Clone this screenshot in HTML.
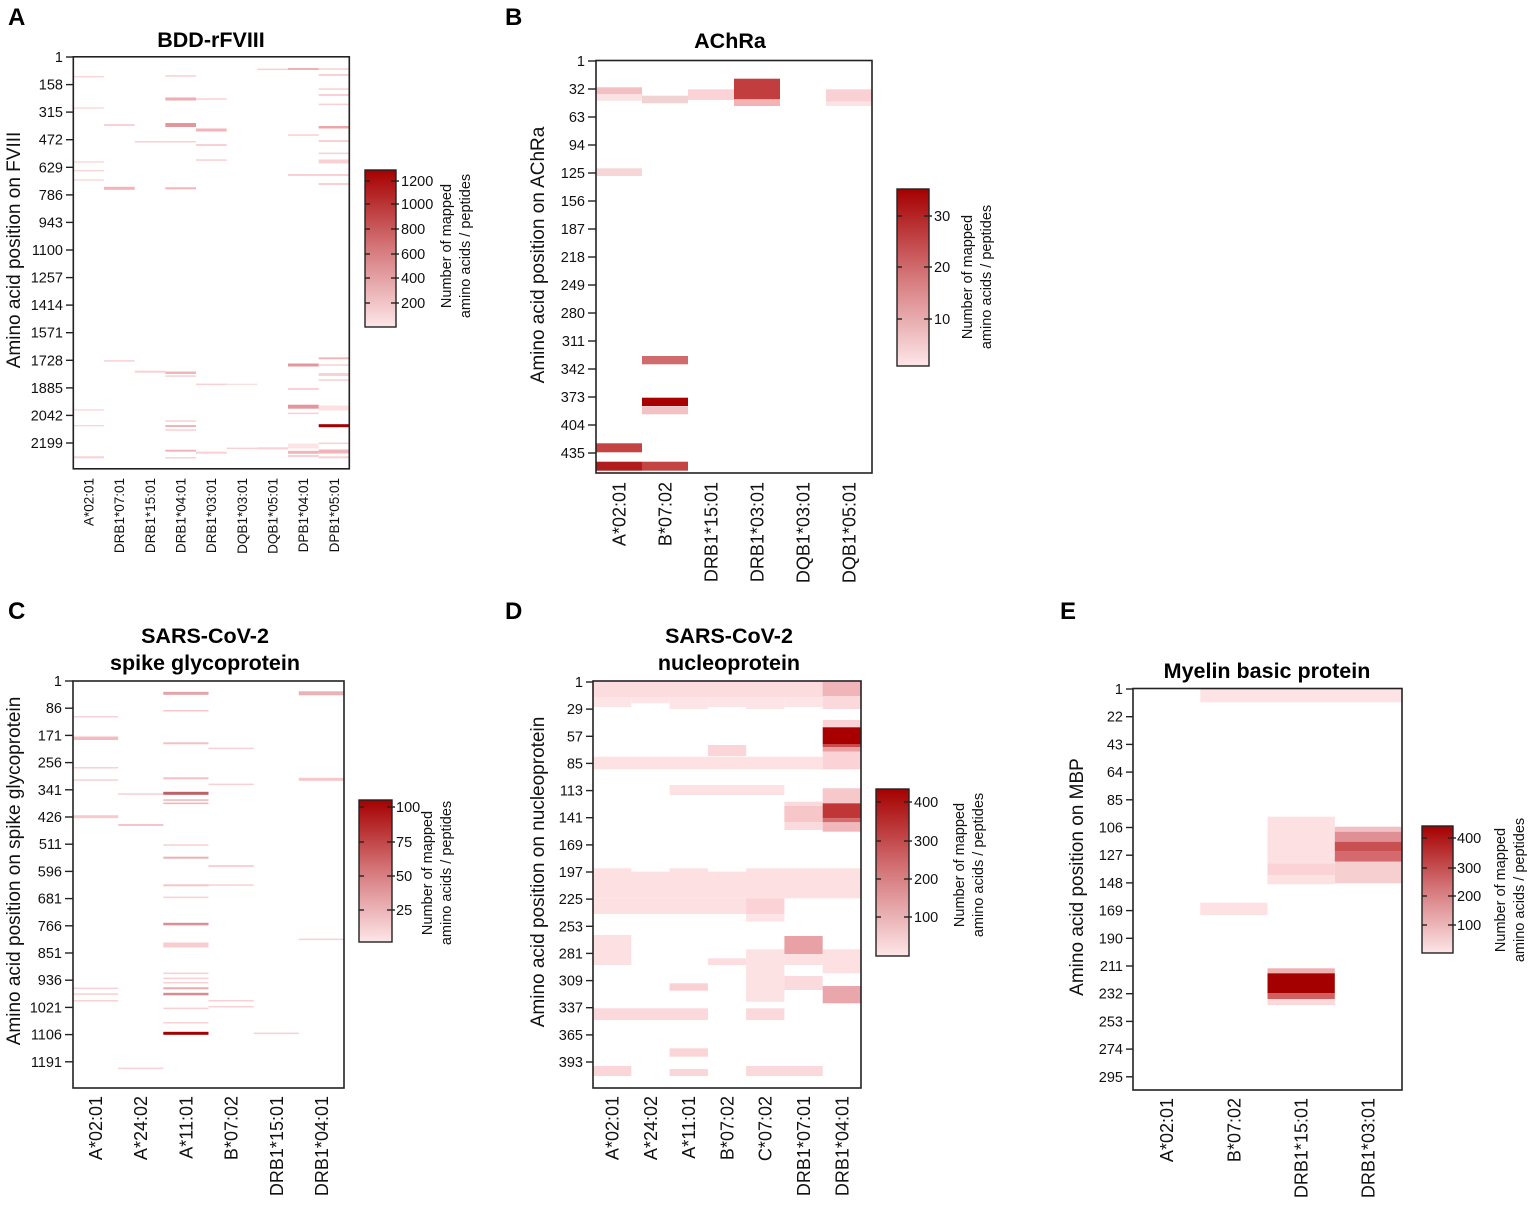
<!DOCTYPE html>
<html><head><meta charset="utf-8"><style>
html,body{margin:0;padding:0;background:#fff;}
svg{display:block;font-family:"Liberation Sans",Arial,sans-serif;}
.pl{font-weight:bold;font-size:24px;}
.ti{font-weight:bold;font-size:21.5px;text-anchor:middle;}
.tk{font-size:14.5px;text-anchor:end;fill:#111;}
.yl{font-size:19px;text-anchor:middle;fill:#111;}
.xs{font-size:13.5px;text-anchor:end;fill:#111;}
.xl{font-size:18px;text-anchor:end;fill:#111;}
.cb{font-size:14.5px;fill:#111;}
.cl{font-size:14.5px;text-anchor:middle;fill:#111;}
.fr{fill:none;stroke:#222;stroke-width:1.6;}
.t line{stroke:#222;stroke-width:1.4;}
</style></head><body>
<svg width="1535" height="1206" viewBox="0 0 1535 1206" xmlns="http://www.w3.org/2000/svg">
<defs>
<linearGradient id="cg" x1="0" y1="0" x2="0" y2="1">
<stop offset="0" stop-color="#a50000"/>
<stop offset="0.5" stop-color="#d5787b"/>
<stop offset="1" stop-color="#fde6e8"/>
</linearGradient>
</defs>
<rect width="1535" height="1206" fill="#fff"/>

<!-- Panel letters -->
<text class="pl" x="8" y="25">A</text>
<text class="pl" x="505" y="25">B</text>
<text class="pl" x="8" y="619">C</text>
<text class="pl" x="505" y="619">D</text>
<text class="pl" x="1060" y="619">E</text>

<!-- ============ PANEL A ============ -->
<text class="ti" x="211" y="47">BDD-rFVIII</text>
<g>
<!-- col0 -->
<rect x="73.3" y="76.1" width="30.7" height="1.2" fill="#f9d0d3"/>
<rect x="73.3" y="107.4" width="30.7" height="1.2" fill="#f9d0d3"/>
<rect x="73.3" y="161.4" width="30.7" height="1.2" fill="#f9d0d3"/>
<rect x="73.3" y="170.1" width="30.7" height="1.2" fill="#f9d0d3"/>
<rect x="73.3" y="179.4" width="30.7" height="1.2" fill="#f9d0d3"/>
<rect x="73.3" y="409.4" width="30.7" height="1.2" fill="#f9d0d3"/>
<rect x="73.3" y="425.1" width="30.7" height="1.2" fill="#f9d0d3"/>
<rect x="73.3" y="456.3" width="30.7" height="2" fill="#f9d0d3"/>
<!-- col1 -->
<rect x="104" y="124" width="30.7" height="2" fill="#f9d0d3"/>
<rect x="104" y="186.8" width="30.7" height="3" fill="#f2b4b8"/>
<rect x="104" y="360.2" width="30.7" height="1.5" fill="#f9d0d3"/>
<!-- col2 -->
<rect x="134.7" y="141" width="30.7" height="1.5" fill="#f9d0d3"/>
<rect x="134.7" y="370.7" width="30.7" height="2" fill="#f9d0d3"/>
<!-- col3 -->
<rect x="165.3" y="75.2" width="30.7" height="1.5" fill="#f9d0d3"/>
<rect x="165.3" y="97.5" width="30.7" height="3" fill="#eeadb1"/>
<rect x="165.3" y="123" width="30.7" height="4" fill="#e3979c"/>
<rect x="165.3" y="141" width="30.7" height="1.5" fill="#f9d0d3"/>
<rect x="165.3" y="187.3" width="30.7" height="2" fill="#f2b4b8"/>
<rect x="165.3" y="371.5" width="30.7" height="2.5" fill="#f2b4b8"/>
<rect x="165.3" y="375.3" width="30.7" height="1.5" fill="#f9d0d3"/>
<rect x="165.3" y="420.3" width="30.7" height="1.5" fill="#f9d0d3"/>
<rect x="165.3" y="425" width="30.7" height="2" fill="#f2b4b8"/>
<rect x="165.3" y="429.3" width="30.7" height="1.5" fill="#f9d0d3"/>
<rect x="165.3" y="449.7" width="30.7" height="2" fill="#f2b4b8"/>
<rect x="165.3" y="457" width="30.7" height="1.5" fill="#f9d0d3"/>
<!-- col4 -->
<rect x="196" y="98.3" width="30.7" height="1.5" fill="#f9d0d3"/>
<rect x="196" y="128.5" width="30.7" height="3" fill="#f2b4b8"/>
<rect x="196" y="144" width="30.7" height="2" fill="#f9d0d3"/>
<rect x="196" y="159.3" width="30.7" height="1.5" fill="#f9d0d3"/>
<rect x="196" y="383.6" width="30.7" height="1.5" fill="#f9d0d3"/>
<rect x="196" y="451.7" width="30.7" height="2" fill="#f9d0d3"/>
<!-- col5 -->
<rect x="226.7" y="383.7" width="30.7" height="1.2" fill="#fbdadd"/>
<rect x="226.7" y="447.6" width="30.7" height="1.5" fill="#f9d0d3"/>
<!-- col6 -->
<rect x="257.3" y="68.6" width="30.7" height="1.5" fill="#f9d0d3"/>
<rect x="257.3" y="447.3" width="30.7" height="2" fill="#f9d0d3"/>
<!-- col7 -->
<rect x="288" y="68" width="30.7" height="2" fill="#f0b0b4"/>
<rect x="288" y="134.3" width="30.7" height="1.5" fill="#f9d0d3"/>
<rect x="288" y="174" width="30.7" height="2" fill="#f9d0d3"/>
<rect x="288" y="363.5" width="30.7" height="3" fill="#e3979c"/>
<rect x="288" y="388" width="30.7" height="2" fill="#f9d0d3"/>
<rect x="288" y="404.7" width="30.7" height="4" fill="#e3979c"/>
<rect x="288" y="412.6" width="30.7" height="1.5" fill="#f9d0d3"/>
<rect x="288" y="443.5" width="30.7" height="5" fill="#fde4e6"/>
<rect x="288" y="450.8" width="30.7" height="3" fill="#f2b4b8"/>
<rect x="288" y="455" width="30.7" height="2" fill="#f9d0d3"/>
<!-- col8 -->
<rect x="318.7" y="68.3" width="30.6" height="1.5" fill="#f9d0d3"/>
<rect x="318.7" y="74" width="30.6" height="2" fill="#f9d0d3"/>
<rect x="318.7" y="88.3" width="30.6" height="1.5" fill="#f9d0d3"/>
<rect x="318.7" y="94" width="30.6" height="2" fill="#f9d0d3"/>
<rect x="318.7" y="103.6" width="30.6" height="1.5" fill="#f9d0d3"/>
<rect x="318.7" y="126" width="30.6" height="2.5" fill="#eca6aa"/>
<rect x="318.7" y="140" width="30.6" height="2" fill="#f9d0d3"/>
<rect x="318.7" y="152.6" width="30.6" height="1.5" fill="#f9d0d3"/>
<rect x="318.7" y="159.5" width="30.6" height="4" fill="#f9d0d3"/>
<rect x="318.7" y="174" width="30.6" height="2" fill="#f9d0d3"/>
<rect x="318.7" y="183" width="30.6" height="2" fill="#f9d0d3"/>
<rect x="318.7" y="357.3" width="30.6" height="2" fill="#f2b4b8"/>
<rect x="318.7" y="364.3" width="30.6" height="1.5" fill="#f9d0d3"/>
<rect x="318.7" y="373" width="30.6" height="3" fill="#f9d0d3"/>
<rect x="318.7" y="379.3" width="30.6" height="1.5" fill="#f9d0d3"/>
<rect x="318.7" y="405.5" width="30.6" height="5" fill="#fde0e2"/>
<rect x="318.7" y="424.2" width="30.6" height="3" fill="#a50000"/>
<rect x="318.7" y="442.6" width="30.6" height="1.5" fill="#f9d0d3"/>
<rect x="318.7" y="449.5" width="30.6" height="4" fill="#f2b4b8"/>
<rect x="318.7" y="456.3" width="30.6" height="2" fill="#f9d0d3"/>
</g>
<rect class="fr" x="73.3" y="56.8" width="276" height="412"/>
<g class="t">
<line x1="66" y1="57" x2="73" y2="57"/><line x1="66" y1="84.6" x2="73" y2="84.6"/><line x1="66" y1="112.1" x2="73" y2="112.1"/><line x1="66" y1="139.7" x2="73" y2="139.7"/><line x1="66" y1="167.3" x2="73" y2="167.3"/><line x1="66" y1="194.9" x2="73" y2="194.9"/><line x1="66" y1="222.4" x2="73" y2="222.4"/><line x1="66" y1="250" x2="73" y2="250"/><line x1="66" y1="277.6" x2="73" y2="277.6"/><line x1="66" y1="305.1" x2="73" y2="305.1"/><line x1="66" y1="332.7" x2="73" y2="332.7"/><line x1="66" y1="360.3" x2="73" y2="360.3"/><line x1="66" y1="387.9" x2="73" y2="387.9"/><line x1="66" y1="415.4" x2="73" y2="415.4"/><line x1="66" y1="443" x2="73" y2="443"/>
</g>
<g class="tk">
<text x="63" y="62">1</text><text x="63" y="89.6">158</text><text x="63" y="117.1">315</text><text x="63" y="144.7">472</text><text x="63" y="172.3">629</text><text x="63" y="199.9">786</text><text x="63" y="227.4">943</text><text x="63" y="255">1100</text><text x="63" y="282.6">1257</text><text x="63" y="310.1">1414</text><text x="63" y="337.7">1571</text><text x="63" y="365.3">1728</text><text x="63" y="392.9">1885</text><text x="63" y="420.4">2042</text><text x="63" y="448">2199</text>
</g>
<text class="yl" transform="translate(20,250) rotate(-90)">Amino acid position on FVIII</text>
<g class="xs">
<text transform="translate(93.5,478) rotate(-90)">A*02:01</text>
<text transform="translate(124.2,478) rotate(-90)">DRB1*07:01</text>
<text transform="translate(154.9,478) rotate(-90)">DRB1*15:01</text>
<text transform="translate(185.5,478) rotate(-90)">DRB1*04:01</text>
<text transform="translate(216.2,478) rotate(-90)">DRB1*03:01</text>
<text transform="translate(246.9,478) rotate(-90)">DQB1*03:01</text>
<text transform="translate(277.5,478) rotate(-90)">DQB1*05:01</text>
<text transform="translate(308.2,478) rotate(-90)">DPB1*04:01</text>
<text transform="translate(338.9,478) rotate(-90)">DPB1*05:01</text>
</g>
<!-- colorbar A -->
<rect x="365" y="170" width="31" height="157" fill="url(#cg)" stroke="#222" stroke-width="1.4"/>
<g class="t">
<line x1="365" y1="181" x2="370" y2="181"/><line x1="391" y1="181" x2="399" y2="181"/>
<line x1="365" y1="204" x2="370" y2="204"/><line x1="391" y1="204" x2="399" y2="204"/>
<line x1="365" y1="229" x2="370" y2="229"/><line x1="391" y1="229" x2="399" y2="229"/>
<line x1="365" y1="254" x2="370" y2="254"/><line x1="391" y1="254" x2="399" y2="254"/>
<line x1="365" y1="278" x2="370" y2="278"/><line x1="391" y1="278" x2="399" y2="278"/>
<line x1="365" y1="303" x2="370" y2="303"/><line x1="391" y1="303" x2="399" y2="303"/>
</g>
<g class="cb">
<text x="401" y="186">1200</text><text x="401" y="209">1000</text><text x="401" y="234">800</text><text x="401" y="259">600</text><text x="401" y="283">400</text><text x="401" y="308">200</text>
</g>
<text class="cl" transform="translate(451,246) rotate(-90)">Number of mapped</text>
<text class="cl" transform="translate(470,246) rotate(-90)">amino acids / peptides</text>

<!-- ============ PANEL B ============ -->
<text class="ti" x="730" y="48">AChRa</text>
<g>
<rect x="596" y="87.3" width="46" height="7" fill="#f2bfc3"/>
<rect x="596" y="94.3" width="46" height="6.4" fill="#fbe2e4"/>
<rect x="596" y="168.3" width="46" height="7.7" fill="#f6d6d7"/>
<rect x="596" y="443.3" width="46" height="9" fill="#c44343"/>
<rect x="596" y="461.7" width="46" height="9" fill="#b11d1d"/>
<rect x="642" y="95.7" width="46" height="7.6" fill="#f1d2d3"/>
<rect x="642" y="356" width="46" height="8.3" fill="#cf6b6d"/>
<rect x="642" y="397.7" width="46" height="8.3" fill="#a80000"/>
<rect x="642" y="406.3" width="46" height="8" fill="#f1c1c4"/>
<rect x="642" y="461.7" width="46" height="9" fill="#c44444"/>
<rect x="688" y="89.3" width="46" height="10.7" fill="#fbd3d6"/>
<rect x="734" y="78.7" width="46" height="20.6" fill="#c23d3d"/>
<rect x="734" y="99.3" width="46" height="6.7" fill="#f3b3b3"/>
<rect x="826" y="89.3" width="46" height="12.4" fill="#f9d0d3"/>
<rect x="826" y="101.7" width="46" height="4.3" fill="#fce2e4"/>
</g>
<rect class="fr" x="596" y="60.5" width="276" height="412.5"/>
<g class="t">
<line x1="588" y1="61" x2="596" y2="61"/><line x1="588" y1="89" x2="596" y2="89"/><line x1="588" y1="117" x2="596" y2="117"/><line x1="588" y1="145" x2="596" y2="145"/><line x1="588" y1="173" x2="596" y2="173"/><line x1="588" y1="201" x2="596" y2="201"/><line x1="588" y1="229" x2="596" y2="229"/><line x1="588" y1="257" x2="596" y2="257"/><line x1="588" y1="285" x2="596" y2="285"/><line x1="588" y1="313" x2="596" y2="313"/><line x1="588" y1="341" x2="596" y2="341"/><line x1="588" y1="369" x2="596" y2="369"/><line x1="588" y1="397" x2="596" y2="397"/><line x1="588" y1="425" x2="596" y2="425"/><line x1="588" y1="453" x2="596" y2="453"/>
</g>
<g class="tk">
<text x="585" y="66">1</text><text x="585" y="94">32</text><text x="585" y="122">63</text><text x="585" y="150">94</text><text x="585" y="178">125</text><text x="585" y="206">156</text><text x="585" y="234">187</text><text x="585" y="262">218</text><text x="585" y="290">249</text><text x="585" y="318">280</text><text x="585" y="346">311</text><text x="585" y="374">342</text><text x="585" y="402">373</text><text x="585" y="430">404</text><text x="585" y="458">435</text>
</g>
<text class="yl" transform="translate(544,255) rotate(-90)">Amino acid position on AChRa</text>
<g class="xl">
<text transform="translate(625.5,482) rotate(-90)">A*02:01</text>
<text transform="translate(671.5,482) rotate(-90)">B*07:02</text>
<text transform="translate(717.5,482) rotate(-90)">DRB1*15:01</text>
<text transform="translate(763.5,482) rotate(-90)">DRB1*03:01</text>
<text transform="translate(809.5,482) rotate(-90)">DQB1*03:01</text>
<text transform="translate(855.5,482) rotate(-90)">DQB1*05:01</text>
</g>
<!-- colorbar B -->
<rect x="897" y="189" width="32" height="177" fill="url(#cg)" stroke="#222" stroke-width="1.4"/>
<g class="t">
<line x1="897" y1="216" x2="902" y2="216"/><line x1="924" y1="216" x2="932" y2="216"/>
<line x1="897" y1="267" x2="902" y2="267"/><line x1="924" y1="267" x2="932" y2="267"/>
<line x1="897" y1="319" x2="902" y2="319"/><line x1="924" y1="319" x2="932" y2="319"/>
</g>
<g class="cb"><text x="934" y="221">30</text><text x="934" y="272">20</text><text x="934" y="324">10</text></g>
<text class="cl" transform="translate(972,277) rotate(-90)">Number of mapped</text>
<text class="cl" transform="translate(991,277) rotate(-90)">amino acids / peptides</text>

<!-- ============ PANEL C ============ -->
<text class="ti" x="205" y="643">SARS-CoV-2</text>
<text class="ti" x="205" y="670">spike glycoprotein</text>
<g>
<rect x="73" y="716" width="45.2" height="1.5" fill="#f9d0d3"/>
<rect x="73" y="736.5" width="45.2" height="3.5" fill="#f4bcc1"/>
<rect x="73" y="767" width="45.2" height="1.5" fill="#f9d0d3"/>
<rect x="73" y="779.3" width="45.2" height="1.5" fill="#f9d0d3"/>
<rect x="73" y="815.2" width="45.2" height="3" fill="#f7cbce"/>
<rect x="73" y="987.6" width="45.2" height="1.5" fill="#f9d0d3"/>
<rect x="73" y="993.3" width="45.2" height="1.5" fill="#f9d0d3"/>
<rect x="73" y="1000" width="45.2" height="1.5" fill="#f9d0d3"/>
<rect x="118.2" y="793.3" width="45.2" height="1.5" fill="#f9d0d3"/>
<rect x="118.2" y="824" width="45.2" height="2" fill="#f4c4c8"/>
<rect x="118.2" y="1067.6" width="45.2" height="1.5" fill="#f9d0d3"/>
<rect x="163.3" y="691.8" width="45.2" height="3" fill="#e3a3a8"/>
<rect x="163.3" y="710" width="45.2" height="1.5" fill="#f5c8cb"/>
<rect x="163.3" y="742.3" width="45.2" height="2" fill="#f4c0c4"/>
<rect x="163.3" y="777.3" width="45.2" height="2" fill="#f4c0c4"/>
<rect x="163.3" y="791.8" width="45.2" height="3" fill="#c06065"/>
<rect x="163.3" y="799.3" width="45.2" height="1.5" fill="#f0b5b8"/>
<rect x="163.3" y="802.6" width="45.2" height="1.5" fill="#f0b5b8"/>
<rect x="163.3" y="844.3" width="45.2" height="1.5" fill="#f9d0d3"/>
<rect x="163.3" y="856.7" width="45.2" height="2" fill="#eab0b4"/>
<rect x="163.3" y="884.3" width="45.2" height="2" fill="#f4c4c8"/>
<rect x="163.3" y="896.6" width="45.2" height="1.5" fill="#f9d0d3"/>
<rect x="163.3" y="922.8" width="45.2" height="2.5" fill="#dc8e93"/>
<rect x="163.3" y="942.5" width="45.2" height="5" fill="#f8cdd0"/>
<rect x="163.3" y="972.6" width="45.2" height="1.5" fill="#f9d0d3"/>
<rect x="163.3" y="977.6" width="45.2" height="1.5" fill="#f9d0d3"/>
<rect x="163.3" y="982" width="45.2" height="1.5" fill="#f9d0d3"/>
<rect x="163.3" y="987.3" width="45.2" height="2" fill="#e9a9ad"/>
<rect x="163.3" y="992.8" width="45.2" height="2.5" fill="#d88a8f"/>
<rect x="163.3" y="1007.6" width="45.2" height="1.5" fill="#f9d0d3"/>
<rect x="163.3" y="1022" width="45.2" height="1.5" fill="#f9d0d3"/>
<rect x="163.3" y="1031.8" width="45.2" height="3" fill="#a50000"/>
<rect x="208.5" y="747.6" width="45.2" height="1.5" fill="#f9d0d3"/>
<rect x="208.5" y="783.6" width="45.2" height="1.5" fill="#f9d0d3"/>
<rect x="208.5" y="865" width="45.2" height="2" fill="#f9d0d3"/>
<rect x="208.5" y="884.3" width="45.2" height="1.5" fill="#f9d0d3"/>
<rect x="208.5" y="1000" width="45.2" height="1.5" fill="#f9d0d3"/>
<rect x="208.5" y="1006" width="45.2" height="1.5" fill="#f9d0d3"/>
<rect x="253.7" y="1032.6" width="45.2" height="1.5" fill="#f9d0d3"/>
<rect x="298.8" y="691.3" width="45.2" height="4" fill="#e9b2b6"/>
<rect x="298.8" y="777.8" width="45.2" height="3" fill="#f6c6c9"/>
<rect x="298.8" y="938.6" width="45.2" height="1.5" fill="#f9d0d3"/>
</g>
<rect class="fr" x="73" y="681" width="271" height="407"/>
<g class="t">
<line x1="65" y1="681" x2="73" y2="681"/><line x1="65" y1="708.2" x2="73" y2="708.2"/><line x1="65" y1="735.4" x2="73" y2="735.4"/><line x1="65" y1="762.6" x2="73" y2="762.6"/><line x1="65" y1="789.8" x2="73" y2="789.8"/><line x1="65" y1="817" x2="73" y2="817"/><line x1="65" y1="844.2" x2="73" y2="844.2"/><line x1="65" y1="871.4" x2="73" y2="871.4"/><line x1="65" y1="898.6" x2="73" y2="898.6"/><line x1="65" y1="925.8" x2="73" y2="925.8"/><line x1="65" y1="953" x2="73" y2="953"/><line x1="65" y1="980.2" x2="73" y2="980.2"/><line x1="65" y1="1007.4" x2="73" y2="1007.4"/><line x1="65" y1="1034.6" x2="73" y2="1034.6"/><line x1="65" y1="1061.8" x2="73" y2="1061.8"/>
</g>
<g class="tk">
<text x="62" y="686">1</text><text x="62" y="713.2">86</text><text x="62" y="740.4">171</text><text x="62" y="767.6">256</text><text x="62" y="794.8">341</text><text x="62" y="822">426</text><text x="62" y="849.2">511</text><text x="62" y="876.4">596</text><text x="62" y="903.6">681</text><text x="62" y="930.8">766</text><text x="62" y="958">851</text><text x="62" y="985.2">936</text><text x="62" y="1012.4">1021</text><text x="62" y="1039.6">1106</text><text x="62" y="1066.8">1191</text>
</g>
<text class="yl" transform="translate(20,871) rotate(-90)">Amino acid position on spike glycoprotein</text>
<g class="xl">
<text transform="translate(102,1096) rotate(-90)">A*02:01</text>
<text transform="translate(147.2,1096) rotate(-90)">A*24:02</text>
<text transform="translate(192.4,1096) rotate(-90)">A*11:01</text>
<text transform="translate(237.6,1096) rotate(-90)">B*07:02</text>
<text transform="translate(282.8,1096) rotate(-90)">DRB1*15:01</text>
<text transform="translate(328,1096) rotate(-90)">DRB1*04:01</text>
</g>
<!-- colorbar C -->
<rect x="359" y="800" width="33" height="142" fill="url(#cg)" stroke="#222" stroke-width="1.4"/>
<g class="t">
<line x1="359" y1="807" x2="364" y2="807"/><line x1="387" y1="807" x2="395" y2="807"/>
<line x1="359" y1="842" x2="364" y2="842"/><line x1="387" y1="842" x2="395" y2="842"/>
<line x1="359" y1="876" x2="364" y2="876"/><line x1="387" y1="876" x2="395" y2="876"/>
<line x1="359" y1="910" x2="364" y2="910"/><line x1="387" y1="910" x2="395" y2="910"/>
</g>
<g class="cb"><text x="396" y="812">100</text><text x="396" y="847">75</text><text x="396" y="881">50</text><text x="396" y="915">25</text></g>
<text class="cl" transform="translate(432,873) rotate(-90)">Number of mapped</text>
<text class="cl" transform="translate(451,873) rotate(-90)">amino acids / peptides</text>

<!-- ============ PANEL D ============ -->
<text class="ti" x="729" y="643">SARS-CoV-2</text>
<text class="ti" x="729" y="670">nucleoprotein</text>
<g>
<!-- top band -->
<rect x="593" y="681.7" width="268" height="15.3" fill="#fcdcdf"/>
<rect x="593" y="697" width="38.3" height="10" fill="#fde5e7"/>
<rect x="631.3" y="697" width="38.3" height="6.3" fill="#fde5e7"/>
<rect x="669.6" y="697" width="38.3" height="12" fill="#fde5e7"/>
<rect x="707.9" y="697" width="38.3" height="10" fill="#fde5e7"/>
<rect x="746.1" y="697" width="38.3" height="12" fill="#fde5e7"/>
<rect x="784.4" y="697" width="38.3" height="10" fill="#fde5e7"/>
<rect x="822.7" y="681.7" width="38.3" height="14.3" fill="#efb5b9"/>
<rect x="822.7" y="696" width="38.3" height="13" fill="#fbd8db"/>
<!-- col6 high -->
<rect x="822.7" y="720" width="38.3" height="7.3" fill="#fbd2d5"/>
<rect x="822.7" y="727.3" width="38.3" height="16.7" fill="#a80000"/>
<rect x="822.7" y="744" width="38.3" height="3" fill="#c84a4a"/>
<rect x="822.7" y="747" width="38.3" height="4.7" fill="#e9a0a3"/>
<rect x="707.9" y="745" width="38.3" height="11" fill="#fbd5d8"/>
<rect x="593" y="756.7" width="229.7" height="12.6" fill="#fde1e3"/>
<rect x="822.7" y="751.7" width="38.3" height="17.6" fill="#fbd3d6"/>
<rect x="669.6" y="785" width="114.8" height="10" fill="#fde1e3"/>
<rect x="784.4" y="801.7" width="38.3" height="28.3" fill="#fbdadd"/>
<rect x="784.4" y="806" width="38.3" height="16" fill="#f6c6c9"/>
<rect x="822.7" y="788.3" width="38.3" height="15" fill="#f7c8ca"/>
<rect x="822.7" y="803.3" width="38.3" height="15" fill="#c03535"/>
<rect x="822.7" y="818.3" width="38.3" height="4" fill="#d66a6d"/>
<rect x="822.7" y="822.3" width="38.3" height="9.4" fill="#f1b8bb"/>
<!-- big band -->
<rect x="593" y="868.3" width="268" height="30" fill="#fde0e2"/>
<rect x="631.3" y="868.3" width="38.3" height="3.4" fill="#fff"/>
<rect x="707.9" y="868.3" width="38.3" height="3.4" fill="#fff"/>
<rect x="593" y="898.3" width="153.1" height="15.7" fill="#fde0e2"/>
<rect x="746.1" y="898.3" width="38.3" height="15.7" fill="#fbd3d7"/>
<rect x="746.1" y="914" width="38.3" height="7.7" fill="#fde4e6"/>
<rect x="593" y="935" width="38.3" height="30" fill="#fde0e2"/>
<rect x="707.9" y="958.3" width="38.3" height="6.7" fill="#fddde0"/>
<rect x="746.1" y="949.3" width="38.3" height="52.4" fill="#fde2e4"/>
<rect x="784.4" y="936" width="38.3" height="18" fill="#e8a2a6"/>
<rect x="784.4" y="954" width="38.3" height="11" fill="#fde0e2"/>
<rect x="784.4" y="976" width="38.3" height="14" fill="#fadadd"/>
<rect x="822.7" y="949.3" width="38.3" height="24" fill="#fde0e2"/>
<rect x="822.7" y="986" width="38.3" height="17.3" fill="#eaa7ab"/>
<rect x="669.6" y="983.3" width="38.3" height="7.4" fill="#f9d1d4"/>
<rect x="593" y="1008.3" width="114.9" height="11.7" fill="#fbd8db"/>
<rect x="746.1" y="1008.3" width="38.3" height="11.7" fill="#fbd8db"/>
<rect x="669.6" y="1048.3" width="38.3" height="8.4" fill="#fad5d8"/>
<rect x="593" y="1066" width="38.3" height="10" fill="#fbd6d9"/>
<rect x="669.6" y="1069" width="38.3" height="7" fill="#fbd6d9"/>
<rect x="746.1" y="1066" width="76.6" height="10" fill="#fbd8db"/>
</g>
<rect class="fr" x="593" y="681" width="268" height="407"/>
<g class="t">
<line x1="586" y1="682" x2="593" y2="682"/><line x1="586" y1="709.1" x2="593" y2="709.1"/><line x1="586" y1="736.3" x2="593" y2="736.3"/><line x1="586" y1="763.4" x2="593" y2="763.4"/><line x1="586" y1="790.6" x2="593" y2="790.6"/><line x1="586" y1="817.7" x2="593" y2="817.7"/><line x1="586" y1="844.9" x2="593" y2="844.9"/><line x1="586" y1="872" x2="593" y2="872"/><line x1="586" y1="899.1" x2="593" y2="899.1"/><line x1="586" y1="926.3" x2="593" y2="926.3"/><line x1="586" y1="953.4" x2="593" y2="953.4"/><line x1="586" y1="980.6" x2="593" y2="980.6"/><line x1="586" y1="1007.7" x2="593" y2="1007.7"/><line x1="586" y1="1034.9" x2="593" y2="1034.9"/><line x1="586" y1="1062" x2="593" y2="1062"/>
</g>
<g class="tk">
<text x="583" y="687">1</text><text x="583" y="714.1">29</text><text x="583" y="741.3">57</text><text x="583" y="768.4">85</text><text x="583" y="795.6">113</text><text x="583" y="822.7">141</text><text x="583" y="849.9">169</text><text x="583" y="877">197</text><text x="583" y="904.1">225</text><text x="583" y="931.3">253</text><text x="583" y="958.4">281</text><text x="583" y="985.6">309</text><text x="583" y="1012.7">337</text><text x="583" y="1039.9">365</text><text x="583" y="1067">393</text>
</g>
<text class="yl" transform="translate(544,872) rotate(-90)">Amino acid position on nucleoprotein</text>
<g class="xl">
<text transform="translate(618.5,1096) rotate(-90)">A*02:01</text>
<text transform="translate(656.8,1096) rotate(-90)">A*24:02</text>
<text transform="translate(695.1,1096) rotate(-90)">A*11:01</text>
<text transform="translate(733.4,1096) rotate(-90)">B*07:02</text>
<text transform="translate(771.7,1096) rotate(-90)">C*07:02</text>
<text transform="translate(810,1096) rotate(-90)">DRB1*07:01</text>
<text transform="translate(848.3,1096) rotate(-90)">DRB1*04:01</text>
</g>
<!-- colorbar D -->
<rect x="876" y="789" width="33" height="167" fill="url(#cg)" stroke="#222" stroke-width="1.4"/>
<g class="t">
<line x1="876" y1="802" x2="881" y2="802"/><line x1="904" y1="802" x2="912" y2="802"/>
<line x1="876" y1="841" x2="881" y2="841"/><line x1="904" y1="841" x2="912" y2="841"/>
<line x1="876" y1="879" x2="881" y2="879"/><line x1="904" y1="879" x2="912" y2="879"/>
<line x1="876" y1="917" x2="881" y2="917"/><line x1="904" y1="917" x2="912" y2="917"/>
</g>
<g class="cb"><text x="914" y="807">400</text><text x="914" y="846">300</text><text x="914" y="884">200</text><text x="914" y="922">100</text></g>
<text class="cl" transform="translate(964,865) rotate(-90)">Number of mapped</text>
<text class="cl" transform="translate(983,865) rotate(-90)">amino acids / peptides</text>

<!-- ============ PANEL E ============ -->
<text class="ti" x="1267" y="678">Myelin basic protein</text>
<g>
<rect x="1200.3" y="689" width="201.7" height="13.3" fill="#fde3e5"/>
<rect x="1267.5" y="816.7" width="67.3" height="46.6" fill="#fde0e2"/>
<rect x="1267.5" y="863.3" width="67.3" height="11.7" fill="#fbd3d6"/>
<rect x="1267.5" y="875" width="67.3" height="9.3" fill="#fde2e4"/>
<rect x="1334.8" y="826.7" width="67.2" height="5" fill="#f2c0c2"/>
<rect x="1334.8" y="831.7" width="67.2" height="10" fill="#df9094"/>
<rect x="1334.8" y="841.7" width="67.2" height="10" fill="#c85050"/>
<rect x="1334.8" y="851.7" width="67.2" height="10" fill="#d46a6d"/>
<rect x="1334.8" y="861.7" width="67.2" height="21.6" fill="#f6cfd0"/>
<rect x="1200.3" y="902.7" width="67.2" height="12.3" fill="#fde1e3"/>
<rect x="1267.5" y="968.3" width="67.3" height="5" fill="#f0b0b0"/>
<rect x="1267.5" y="973.3" width="67.3" height="20" fill="#a50000"/>
<rect x="1267.5" y="993.3" width="67.3" height="5.7" fill="#d06060"/>
<rect x="1267.5" y="999" width="67.3" height="6" fill="#fbd8da"/>
</g>
<rect class="fr" x="1133" y="688.5" width="269" height="401.5"/>
<g class="t">
<line x1="1126" y1="689" x2="1133" y2="689"/><line x1="1126" y1="716.7" x2="1133" y2="716.7"/><line x1="1126" y1="744.4" x2="1133" y2="744.4"/><line x1="1126" y1="772.1" x2="1133" y2="772.1"/><line x1="1126" y1="799.8" x2="1133" y2="799.8"/><line x1="1126" y1="827.5" x2="1133" y2="827.5"/><line x1="1126" y1="855.2" x2="1133" y2="855.2"/><line x1="1126" y1="882.9" x2="1133" y2="882.9"/><line x1="1126" y1="910.6" x2="1133" y2="910.6"/><line x1="1126" y1="938.3" x2="1133" y2="938.3"/><line x1="1126" y1="966" x2="1133" y2="966"/><line x1="1126" y1="993.7" x2="1133" y2="993.7"/><line x1="1126" y1="1021.4" x2="1133" y2="1021.4"/><line x1="1126" y1="1049.1" x2="1133" y2="1049.1"/><line x1="1126" y1="1076.8" x2="1133" y2="1076.8"/>
</g>
<g class="tk">
<text x="1123" y="694">1</text><text x="1123" y="721.7">22</text><text x="1123" y="749.4">43</text><text x="1123" y="777.1">64</text><text x="1123" y="804.8">85</text><text x="1123" y="832.5">106</text><text x="1123" y="860.2">127</text><text x="1123" y="887.9">148</text><text x="1123" y="915.6">169</text><text x="1123" y="943.3">190</text><text x="1123" y="971">211</text><text x="1123" y="998.7">232</text><text x="1123" y="1026.4">253</text><text x="1123" y="1054.1">274</text><text x="1123" y="1081.8">295</text>
</g>
<text class="yl" transform="translate(1083,877) rotate(-90)">Amino acid position on MBP</text>
<g class="xl">
<text transform="translate(1173,1098) rotate(-90)">A*02:01</text>
<text transform="translate(1240.5,1098) rotate(-90)">B*07:02</text>
<text transform="translate(1307.5,1098) rotate(-90)">DRB1*15:01</text>
<text transform="translate(1374.5,1098) rotate(-90)">DRB1*03:01</text>
</g>
<!-- colorbar E -->
<rect x="1422" y="826" width="31" height="127" fill="url(#cg)" stroke="#222" stroke-width="1.4"/>
<g class="t">
<line x1="1422" y1="838" x2="1427" y2="838"/><line x1="1448" y1="838" x2="1456" y2="838"/>
<line x1="1422" y1="868" x2="1427" y2="868"/><line x1="1448" y1="868" x2="1456" y2="868"/>
<line x1="1422" y1="896" x2="1427" y2="896"/><line x1="1448" y1="896" x2="1456" y2="896"/>
<line x1="1422" y1="925" x2="1427" y2="925"/><line x1="1448" y1="925" x2="1456" y2="925"/>
</g>
<g class="cb"><text x="1457" y="843">400</text><text x="1457" y="873">300</text><text x="1457" y="901">200</text><text x="1457" y="930">100</text></g>
<text class="cl" transform="translate(1505,890) rotate(-90)">Number of mapped</text>
<text class="cl" transform="translate(1524,890) rotate(-90)">amino acids / peptides</text>
</svg>
</body></html>
